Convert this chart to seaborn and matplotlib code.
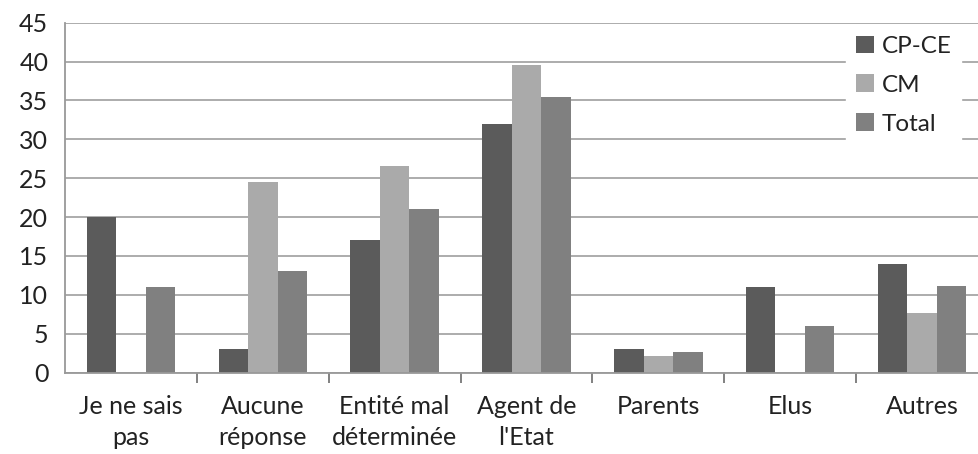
import matplotlib
matplotlib.use("Agg")
import matplotlib.pyplot as plt
import seaborn as sns
import pandas as pd
import numpy as np

categories = ["Je ne sais\npas", "Aucune\nréponse", "Entité mal\ndéterminée",
              "Agent de\nl'Etat", "Parents", "Elus", "Autres"]
series_names = ["CP-CE", "CM", "Total"]
cp_ce = [20, 3, 17, 32, 3, 11, 14]
cm = [0, 24.5, 26.6, 39.5, 2.1, 0, 7.6]
total = [11, 13, 21, 35.5, 2.6, 6, 11.1]
yticks = [0, 5, 10, 15, 20, 25, 30, 35, 40, 45]
colors = ["#5b5b5b", "#aaaaaa", "#808080"]

rows = []
for name, vals in zip(series_names, [cp_ce, cm, total]):
    for c, v in zip(categories, vals):
        rows.append({"cat": c, "series": name, "value": v})
df = pd.DataFrame(rows)

sns.set_style("white")
plt.rcParams['font.family'] = ['Lato', 'DejaVu Sans']

W, H = 979, 454
fig = plt.figure(figsize=(W / 100, H / 100), dpi=100)
left, right = 65, 988
top, bottom = 22.7, 372.5
ax = fig.add_axes([left / W, 1 - bottom / H, (right - left) / W, (bottom - top) / H])

sns.barplot(data=df, x="cat", y="value", hue="series", order=categories,
            hue_order=series_names, palette=colors, width=0.67, gap=0,
            saturation=1, ax=ax, legend=True, linewidth=0, edgecolor="none")

FS = 18
ax.set_ylim(0, 45)
ax.set_xlim(-0.5, len(categories) - 0.5)
ax.set_yticks(yticks)
ax.set_yticklabels([str(t) for t in yticks], fontsize=FS, color="#222222")
ax.yaxis.grid(True, color="#a6a6a6", linewidth=1.3)
ax.set_axisbelow(True)
ax.tick_params(axis="y", length=7, width=1.3, color="#a6a6a6", pad=5)

ax.set_xticks(range(len(categories)))
ax.set_xticklabels(categories, fontsize=FS, color="#222222", linespacing=1.45)
ax.tick_params(axis="x", which="major", length=0, pad=16)
ax.set_xticks(np.arange(0.5, len(categories) - 0.5, 1), minor=True)
ax.tick_params(axis="x", which="minor", bottom=True, length=7, width=1.3,
               color="#777777", direction="out")

for s in ["top", "right"]:
    ax.spines[s].set_visible(False)
ax.spines["left"].set_color("#999999")
ax.spines["left"].set_linewidth(1.3)
ax.spines["bottom"].set_color("#999999")
ax.spines["bottom"].set_linewidth(1.3)
ax.set_xlabel("")
ax.set_ylabel("")

leg = ax.legend(loc="upper left", bbox_to_anchor=((834 - left) / (right - left), 1.0 + 9 / (bottom - top)),
                frameon=True, fontsize=17.5, handlelength=0.75, handleheight=0.75,
                handletextpad=0.3, labelspacing=0.72, borderpad=0.4)
leg.get_frame().set_facecolor("white")
leg.get_frame().set_edgecolor("white")
leg.get_frame().set_alpha(1)
leg.get_frame().set_boxstyle("square", pad=0)
for t in leg.get_texts():
    t.set_color("#222222")

fig.savefig("out.png", dpi=100)
